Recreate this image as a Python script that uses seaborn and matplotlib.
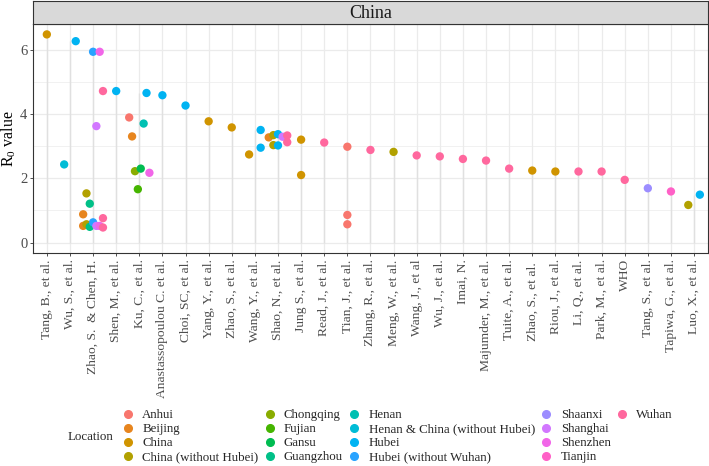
import numpy as np
import pandas as pd
import matplotlib
matplotlib.use('Agg')
import matplotlib.pyplot as plt
from matplotlib.lines import Line2D
import seaborn as sns

# ---------------- data ----------------
studies = ["Tang, B., et al.", "Wu, S., et al.", "Zhao, S.  & Chen, H.", "Shen, M., et al.",
           "Ku, C., et al.", "Anastassopoulou C. et al.", "Choi, SC, et al.", "Yang, Y., et al.",
           "Zhao, S., et al.", "Wang, Y., et al.", "Shao, N., et al.", "Jung S., et al.",
           "Read, J., et al.", "Tian, J., et al.", "Zhang, R., et al.", "Meng, W., et al.",
           "Wang, J., et al", "Wu, J., et al.", "Imai, N.", "Majumder, M., et al.",
           "Tuite, A., et al.", "Zhao, S., et al. ", "Riou, J., et al.", "Li, Q., et al.",
           "Park, M., et al.", "WHO", "Tang, S., et al.", "Tapiwa, G., et al.", "Luo, X., et al."]

locations = ["Anhui", "Beijing", "China", "China (without Hubei)", "Chongqing", "Fujian",
             "Gansu", "Guangzhou", "Henan", "Henan & China (without Hubei)", "Hubei",
             "Hubei (without Wuhan)", "Shaanxi", "Shanghai", "Shenzhen", "Tianjin", "Wuhan"]

pt_study = (["Tang, B., et al."]
            + ["Wu, S., et al."] * 2
            + ["Zhao, S.  & Chen, H."] * 15
            + ["Shen, M., et al."]
            + ["Ku, C., et al."] * 8
            + ["Anastassopoulou C. et al.", "Choi, SC, et al.", "Yang, Y., et al.", "Zhao, S., et al."]
            + ["Wang, Y., et al."] * 3
            + ["Shao, N., et al."] * 8
            + ["Jung S., et al."] * 2
            + ["Read, J., et al."]
            + ["Tian, J., et al."] * 3
            + ["Zhang, R., et al.", "Meng, W., et al.", "Wang, J., et al", "Wu, J., et al.",
               "Imai, N.", "Majumder, M., et al.", "Tuite, A., et al.", "Zhao, S., et al. ",
               "Riou, J., et al.", "Li, Q., et al.", "Park, M., et al.", "WHO",
               "Tang, S., et al.", "Tapiwa, G., et al."]
            + ["Luo, X., et al."] * 2)

pt_loc = (["China"]
          + ["Henan & China (without Hubei)", "Hubei"]
          + ["Beijing", "Beijing", "China (without Hubei)", "China (without Hubei)",
             "Guangzhou", "Guangzhou", "Hubei (without Wuhan)", "Hubei (without Wuhan)",
             "Shanghai", "Shanghai", "Shenzhen", "Shenzhen", "Wuhan", "Wuhan", "Wuhan"]
          + ["Hubei"]
          + ["Anhui", "Beijing", "Chongqing", "Fujian", "Gansu", "Henan", "Hubei", "Shenzhen"]
          + ["Hubei", "Hubei", "China", "China"]
          + ["China", "Hubei", "Hubei"]
          + ["Beijing", "China (without Hubei)", "China (without Hubei)", "Hubei", "Hubei",
             "Shanghai", "Wuhan", "Wuhan"]
          + ["China", "China"]
          + ["Wuhan"]
          + ["Anhui", "Anhui", "Anhui"]
          + ["Wuhan", "China (without Hubei)", "Wuhan", "Wuhan", "Wuhan", "Wuhan", "Wuhan",
             "China", "China", "Wuhan", "Wuhan", "Wuhan", "Shaanxi", "Tianjin"]
          + ["China (without Hubei)", "Hubei"])

pt_r0 = ([6.47]
         + [2.43, 6.26]
         + [0.88, 0.52, 1.53, 0.57, 1.21, 0.49, 5.93, 0.63, 3.62, 0.52, 5.93, 0.52, 4.71, 0.76, 0.47]
         + [4.71]
         + [3.89, 3.30, 2.22, 1.66, 2.30, 3.70, 4.65, 2.17]
         + [4.58, 4.26, 3.77, 3.58]
         + [2.74, 3.50, 2.95]
         + [3.27, 3.34, 3.03, 3.37, 3.02, 3.29, 3.33, 3.12]
         + [3.20, 2.10]
         + [3.11]
         + [2.98, 0.86, 0.57]
         + [2.88, 2.82, 2.71, 2.68, 2.60, 2.55, 2.30, 2.24, 2.21, 2.21, 2.21, 1.95, 1.69, 1.59]
         + [1.17, 1.49])

df = pd.DataFrame({"Study": pt_study, "Location": pt_loc, "R0": pt_r0})


# ggplot2 default hue palette (hcl, c=100, l=65)
def hcl(h, c=100.0, l=65.0):
    h = np.deg2rad(h)
    u, v = c * np.cos(h), c * np.sin(h)
    Xn, Yn, Zn = 95.047, 100.0, 108.883
    Y = Yn * ((l + 16) / 116) ** 3
    den = Xn + 15 * Yn + 3 * Zn
    up = u / (13 * l) + 4 * Xn / den
    vp = v / (13 * l) + 9 * Yn / den
    X = Y * 9 * up / (4 * vp)
    Z = Y * (12 - 3 * up - 20 * vp) / (4 * vp)
    M = np.array([[3.240479, -1.537150, -0.498535],
                  [-0.969256, 1.875992, 0.041556],
                  [0.055648, -0.204043, 1.057311]])
    rgb = M @ (np.array([X, Y, Z]) / 100)
    rgb = np.where(rgb > 0.0031308, 1.055 * np.abs(rgb) ** (1 / 2.4) - 0.055, 12.92 * rgb)
    return tuple(np.clip(rgb, 0, 1))


n = len(locations)
palette = {loc: hcl(15 + i * 360 / n) for i, loc in enumerate(locations)}

# dodge like position_dodge(width = 1): slots only for the groups present in each study
df["code"] = df["Study"].map({s: i for i, s in enumerate(studies)})
df["lv"] = df["Location"].map({s: i for i, s in enumerate(locations)})
xpos = []
for _, r in df.iterrows():
    present = sorted(df.loc[df["Study"] == r["Study"], "lv"].unique())
    k = len(present)
    j = present.index(r["lv"])
    xpos.append(r["code"] + (j - (k - 1) / 2) / k)
df["x"] = xpos

# ---------------- figure ----------------
sns.set_style("white")
plt.rcParams['font.family'] = ['Liberation Serif', 'DejaVu Serif']
plt.rcParams['mathtext.fontset'] = 'custom'
plt.rcParams['mathtext.rm'] = 'Liberation Serif'

fig = plt.figure(figsize=(7.09, 4.66), dpi=100)
ax = fig.add_axes([0.0465, 0.457, 0.952, 0.4915])
strip = fig.add_axes([0.0465, 0.9485, 0.952, 0.049])

# stems from 0 to the highest estimate of each study
tops = df.groupby("code")["R0"].max()
ax.vlines(tops.index, 0, tops.values, color="#E0E0E0", lw=1.0, zorder=1)

sns.scatterplot(data=df, x="x", y="R0", hue="Location", hue_order=locations,
                palette=palette, s=36, linewidth=0, legend=False, ax=ax, zorder=3)

hi = df["R0"].max()
ax.set_xlim(-0.6, len(studies) - 0.4)
ax.set_ylim(-0.05 * hi, hi * 1.05)
ax.set_xticks(range(len(studies)))
ax.set_xticklabels(studies, rotation=90, fontsize=9.7, color="#4D4D4D")
ax.set_yticks([0, 2, 4, 6])
ax.set_yticks([1, 3, 5], minor=True)
ax.tick_params(axis="y", labelsize=10.5, colors="#4D4D4D", pad=1.5)
ax.tick_params(axis="x", pad=2)
ax.tick_params(which="major", length=2.5, width=0.6, color="#333333", left=True, bottom=True)
ax.tick_params(which="minor", length=0)
ax.grid(True, which="major", color="#EBEBEB", lw=0.9, zorder=0)
ax.grid(True, which="minor", axis="y", color="#EBEBEB", lw=0.5, zorder=0)
ax.set_axisbelow(True)
ax.set_xlabel("")
ax.set_ylabel(r"$\mathregular{R_0}$ value", fontsize=11.5, color="black")
ax.yaxis.set_label_coords(-0.0215, 0.5)
for sp in ax.spines.values():
    sp.set_color("#333333")
    sp.set_linewidth(0.8)

strip.set_facecolor("#D9D9D9")
strip.set_xticks([])
strip.set_yticks([])
for sp in strip.spines.values():
    sp.set_color("#333333")
    sp.set_linewidth(0.8)
strip.text(0.5, 0.48, "China", ha="center", va="center", fontsize=13, color="#1A1A1A",
           transform=strip.transAxes)

# legend: 5 columns of 4, filled column-wise, title on the left
handles, labels = [], []
for loc in locations:
    handles.append(Line2D([], [], marker="o", ls="", ms=5.5, color=palette[loc]))
    labels.append(loc)
for _ in range(3):
    handles.append(Line2D([], [], ls="", marker=""))
    labels.append("")
fig.legend(handles, labels, ncol=5, loc="center left", bbox_to_anchor=(0.175, 0.064),
           frameon=False, fontsize=9.3, handlelength=0.6, handletextpad=0.8,
           labelspacing=0.15, columnspacing=0.58, borderpad=0, borderaxespad=0)
fig.text(0.096, 0.0625, "Location", ha="left", va="center", fontsize=9.3)

fig.savefig("out.png", dpi=100)
